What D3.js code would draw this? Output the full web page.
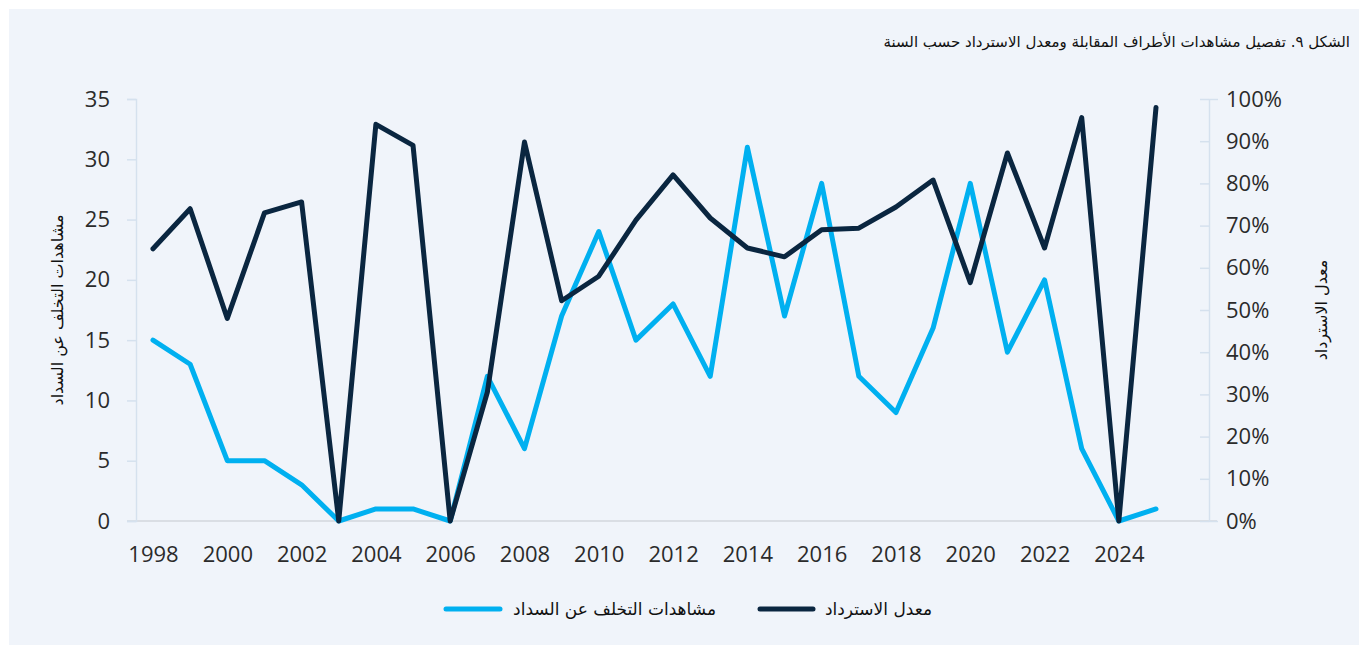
<!DOCTYPE html>
<html>
<head>
<meta charset="utf-8">
<script src="https://cdn.jsdelivr.net/npm/d3@7"></script>
<style>
  body { margin: 0; background: #ffffff; }
  svg text { font-family: "Open Sans", "DejaVu Sans", sans-serif; }
  .ar { font-family: "DejaVu Sans", "Noto Sans", sans-serif; }
</style>
</head>
<body>
<div id="chart"></div>
<script>
// data
var years = d3.range(1998, 2026);
var defaults = [15, 13, 5, 5, 3, 0, 1, 1, 0, 12, 6, 17, 24, 15, 18, 12, 31, 17, 28, 12, 9, 16, 28, 14, 20, 6, 0, 1];
var recovery = [64.5, 74, 48, 73, 75.6, 0, 94, 89, 0, 30.5, 89.8, 52.2, 58, 71.3, 82, 71.8, 64.7, 62.6, 69, 69.4, 74.4, 80.8, 56.5, 87.2, 64.7, 95.6, 0, 98];
var leftTicks = [0, 5, 10, 15, 20, 25, 30, 35];
var rightTicks = [0, 10, 20, 30, 40, 50, 60, 70, 80, 90, 100];
var xTicks = d3.range(1998, 2026, 2);

var title = "الشكل ٩. تفصيل مشاهدات الأطراف المقابلة ومعدل الاسترداد حسب السنة";
var leftTitle = "مشاهدات التخلف عن السداد";
var rightTitle = "معدل الاسترداد";

var W = 1359, H = 645;
var blue = "#00b0f0", navy = "#0a2640";

var svg = d3.select("#chart").append("svg")
    .attr("width", W).attr("height", H);

svg.append("rect")
    .attr("x", 9).attr("y", 9)
    .attr("width", W - 9).attr("height", H - 9)
    .attr("fill", "#f0f4fa");

var x = d3.scaleLinear().domain([1998, 2025]).range([153, 1156]);
var yL = d3.scaleLinear().domain([0, 35]).range([521, 99]);
var yR = d3.scaleLinear().domain([0, 100]).range([521, 99]);

// baseline
svg.append("line")
    .attr("x1", 127).attr("x2", 1217)
    .attr("y1", 521).attr("y2", 521)
    .attr("stroke", "#d3d7dc").attr("stroke-width", 1.5);

var gL = svg.append("g")
    .attr("transform", "translate(136,0)")
    .call(d3.axisLeft(yL).tickValues(leftTicks).tickSize(9).tickPadding(17));

var gR = svg.append("g")
    .attr("transform", "translate(1209,0)")
    .call(d3.axisRight(yR).tickValues(rightTicks).tickSize(9).tickPadding(17)
        .tickFormat(function(d) { return d + "%"; }));

[gL, gR].forEach(function(g) {
    g.select(".domain").attr("stroke", "#d5e1ee").attr("stroke-width", 1.5);
    g.selectAll(".tick line").attr("stroke", "#d5e1ee").attr("stroke-width", 1.5);
    g.selectAll("text")
        .attr("font-size", 22)
        .attr("fill", "#2b2b2b")
        .attr("font-family", "Open Sans");
});
gR.selectAll(".tick line").attr("x1", -9).attr("x2", 0);
gR.selectAll("text").attr("x", 17);

var gX = svg.append("g")
    .attr("transform", "translate(0,521)")
    .call(d3.axisBottom(x).tickValues(xTicks).tickSize(0).tickPadding(25)
        .tickFormat(d3.format("d")));
gX.select(".domain").remove();
gX.selectAll("text")
    .attr("font-size", 22)
    .attr("fill", "#2b2b2b")
    .attr("font-family", "Open Sans");

// lines
var lineL = d3.line()
    .x(function(d, i) { return x(years[i]); })
    .y(function(d) { return yL(d); });
var lineR = d3.line()
    .x(function(d, i) { return x(years[i]); })
    .y(function(d) { return yR(d); });

svg.append("path")
    .datum(defaults)
    .attr("d", lineL)
    .attr("fill", "none")
    .attr("stroke", blue)
    .attr("stroke-width", 5)
    .attr("stroke-linejoin", "round")
    .attr("stroke-linecap", "round");

svg.append("path")
    .datum(recovery)
    .attr("d", lineR)
    .attr("fill", "none")
    .attr("stroke", navy)
    .attr("stroke-width", 5)
    .attr("stroke-linejoin", "round")
    .attr("stroke-linecap", "round");

// titles
svg.append("text")
    .attr("class", "ar")
    .attr("x", 1350).attr("y", 47)
    .attr("text-anchor", "start")
    .attr("direction", "rtl")
    .attr("font-size", 15)
    .attr("fill", "#111")
    .text(title);

svg.append("text")
    .attr("class", "ar")
    .attr("transform", "translate(63,310)rotate(-90)")
    .attr("text-anchor", "middle")
    .attr("font-size", 16)
    .attr("fill", "#111")
    .text(leftTitle);

svg.append("text")
    .attr("class", "ar")
    .attr("transform", "translate(1327,310)rotate(-90)")
    .attr("text-anchor", "middle")
    .attr("font-size", 16)
    .attr("fill", "#111")
    .text(rightTitle);

// legend
var legend = [
    { label: rightTitle, color: navy, x1: 760, x2: 813, tx: 932 },
    { label: leftTitle, color: blue, x1: 446, x2: 500, tx: 716 }
];
legend.forEach(function(l) {
    svg.append("line")
        .attr("x1", l.x1).attr("x2", l.x2)
        .attr("y1", 609).attr("y2", 609)
        .attr("stroke", l.color).attr("stroke-width", 5)
        .attr("stroke-linecap", "round");
    svg.append("text")
        .attr("class", "ar")
        .attr("x", l.tx).attr("y", 615)
        .attr("text-anchor", "end")
        .attr("font-size", 17)
        .attr("fill", "#111")
        .text(l.label);
});
</script>
</body>
</html>
